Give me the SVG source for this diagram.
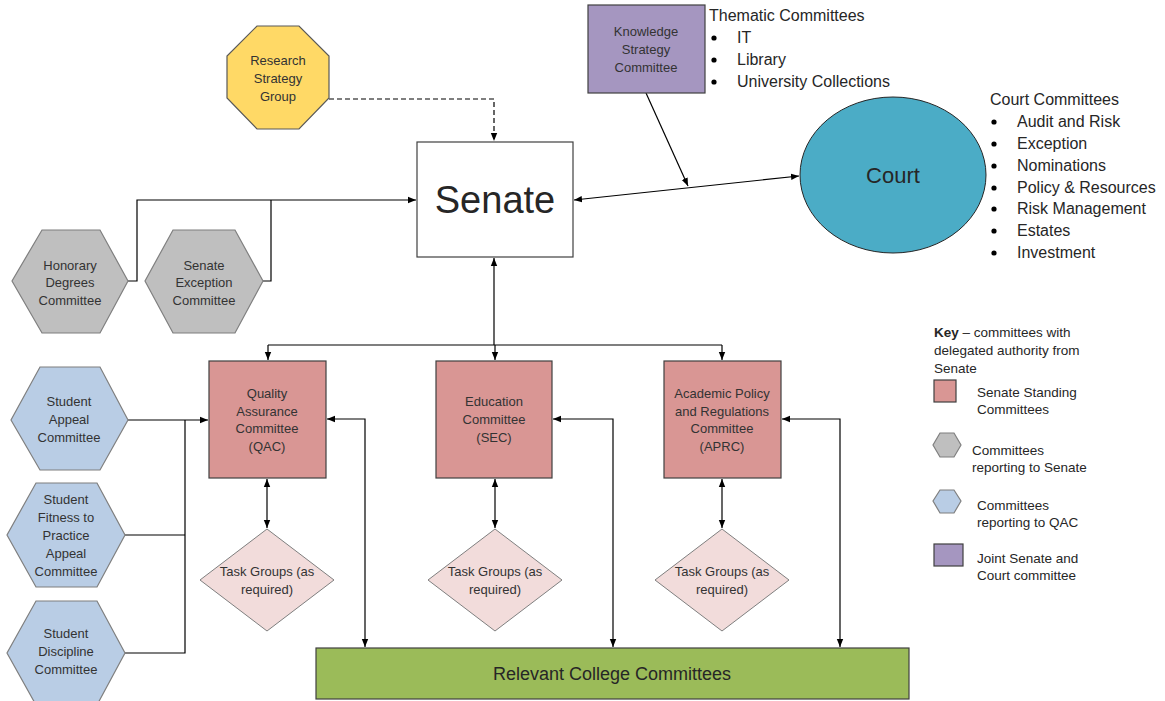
<svg xmlns="http://www.w3.org/2000/svg" width="1165" height="701" viewBox="0 0 1165 701">
<defs>
<marker id="ah" viewBox="0 0 10 10" refX="10" refY="5" markerWidth="8" markerHeight="8" markerUnits="userSpaceOnUse" orient="auto-start-reverse"><path d="M0,1 L10,5 L0,9 z" fill="#000"/></marker>
<style>
text{font-family:"Liberation Sans",Arial,sans-serif;fill:#262626}
.n{font-size:13px;text-anchor:middle;dominant-baseline:central;fill:#333}
.k{font-size:13.5px;dominant-baseline:central}
.l{font-size:16px}
.c{fill:none;stroke:#000;stroke-width:1.2}
.gray{fill:#BFBFBF;stroke:#7F7F7F;stroke-width:1.2}
.blue{fill:#B9CDE5;stroke:#7F7F7F;stroke-width:1.2}
.std{fill:#D99694;stroke:#404040;stroke-width:1.2}
.task{fill:#F2DCDB;stroke:#7F7F7F;stroke-width:1}
.purple{fill:#A596C0;stroke:#404040;stroke-width:1.2}
</style>
</defs>
<rect width="1165" height="701" fill="#fff"/>

<g id="connectors">
<path class="c" d="M329,99 H494 V141" stroke-dasharray="5,3" marker-end="url(#ah)"/>
<path class="c" d="M128,281 H137 V200 H416" marker-end="url(#ah)"/>
<path class="c" d="M263,281 H271 V200"/>
<path class="c" d="M574,200 L799,176" marker-start="url(#ah)" marker-end="url(#ah)"/>
<path class="c" d="M646,93 L688,186" marker-end="url(#ah)"/>
<path class="c" d="M494,345 V258" marker-end="url(#ah)"/>
<path class="c" d="M268,345 H722"/>
<path class="c" d="M268,345 V360" marker-end="url(#ah)"/>
<path class="c" d="M495,345 V360" marker-end="url(#ah)"/>
<path class="c" d="M722,345 V360" marker-end="url(#ah)"/>
<path class="c" d="M128,420 H208" marker-end="url(#ah)"/>
<path class="c" d="M185,420 V653 H125"/>
<path class="c" d="M125,535 H185"/>
<path class="c" d="M327,419 H365 V647" marker-start="url(#ah)" marker-end="url(#ah)"/>
<path class="c" d="M553,419 H613 V647" marker-start="url(#ah)" marker-end="url(#ah)"/>
<path class="c" d="M782,419 H840 V647" marker-start="url(#ah)" marker-end="url(#ah)"/>
<path class="c" d="M267,479 V528" marker-start="url(#ah)" marker-end="url(#ah)"/>
<path class="c" d="M495,479 V528" marker-start="url(#ah)" marker-end="url(#ah)"/>
<path class="c" d="M722,479 V528" marker-start="url(#ah)" marker-end="url(#ah)"/>
</g>

<g id="research">
<polygon points="257,26 299,26 329,56 329,98 299,129 257,129 227,98 227,56" fill="#FFD966" stroke="#595959" stroke-width="1.2"/>
<text class="n" x="278" y="60">Research</text>
<text class="n" x="278" y="78">Strategy</text>
<text class="n" x="278" y="96">Group</text>
</g>

<g id="senate">
<rect x="417" y="142" width="156" height="115" fill="#fff" stroke="#404040" stroke-width="1.2"/>
<text x="495" y="213" font-size="38" text-anchor="middle" fill="#000">Senate</text>
</g>

<g id="knowledge">
<rect class="purple" x="588" y="5" width="117" height="88"/>
<text class="n" x="646" y="31">Knowledge</text>
<text class="n" x="646" y="49">Strategy</text>
<text class="n" x="646" y="67">Committee</text>
</g>

<g id="thematic">
<text class="l" x="709" y="21">Thematic Committees</text>
<circle cx="714" cy="38" r="2.6" fill="#000"/><text class="l" x="737" y="43">IT</text>
<circle cx="714" cy="60" r="2.6" fill="#000"/><text class="l" x="737" y="65">Library</text>
<circle cx="714" cy="82" r="2.6" fill="#000"/><text class="l" x="737" y="87">University Collections</text>
</g>

<g id="court">
<ellipse cx="893" cy="175" rx="93" ry="78" fill="#4BACC6" stroke="#262626" stroke-width="1"/>
<text x="893" y="183" font-size="22" text-anchor="middle" fill="#000">Court</text>
</g>

<g id="court-committees">
<text class="l" x="990" y="105">Court Committees</text>
<circle cx="994" cy="122" r="2.6" fill="#000"/><text class="l" x="1017" y="127">Audit and Risk</text>
<circle cx="994" cy="144" r="2.6" fill="#000"/><text class="l" x="1017" y="149">Exception</text>
<circle cx="994" cy="166" r="2.6" fill="#000"/><text class="l" x="1017" y="171">Nominations</text>
<circle cx="994" cy="188" r="2.6" fill="#000"/><text class="l" x="1017" y="193">Policy &amp; Resources</text>
<circle cx="994" cy="209" r="2.6" fill="#000"/><text class="l" x="1017" y="214">Risk Management</text>
<circle cx="994" cy="231" r="2.6" fill="#000"/><text class="l" x="1017" y="236">Estates</text>
<circle cx="994" cy="253" r="2.6" fill="#000"/><text class="l" x="1017" y="258">Investment</text>
</g>

<g id="honorary">
<polygon class="gray" points="42,230 100,230 128,281 100,333 42,333 12,281"/>
<text class="n" x="70" y="265">Honorary</text>
<text class="n" x="70" y="282">Degrees</text>
<text class="n" x="70" y="300">Committee</text>
</g>

<g id="senate-exception">
<polygon class="gray" points="173,230 235,230 263,281 235,333 173,333 145,281"/>
<text class="n" x="204" y="265">Senate</text>
<text class="n" x="204" y="282">Exception</text>
<text class="n" x="204" y="300">Committee</text>
</g>

<g id="qac">
<rect class="std" x="209" y="361" width="117" height="117"/>
<text class="n" x="267" y="393">Quality</text>
<text class="n" x="267" y="411">Assurance</text>
<text class="n" x="267" y="428">Committee</text>
<text class="n" x="267" y="446">(QAC)</text>
</g>

<g id="sec">
<rect class="std" x="436" y="361" width="116" height="117"/>
<text class="n" x="494" y="401">Education</text>
<text class="n" x="494" y="419">Committee</text>
<text class="n" x="494" y="437">(SEC)</text>
</g>

<g id="aprc">
<rect class="std" x="664" y="361" width="117" height="117"/>
<text class="n" x="722" y="393">Academic Policy</text>
<text class="n" x="722" y="411">and Regulations</text>
<text class="n" x="722" y="428">Committee</text>
<text class="n" x="722" y="446">(APRC)</text>
</g>

<g id="student-appeal">
<polygon class="blue" points="40,367 100,367 128,420 100,470 40,470 11,420"/>
<text class="n" x="69" y="401">Student</text>
<text class="n" x="69" y="419">Appeal</text>
<text class="n" x="69" y="437">Committee</text>
</g>

<g id="student-fitness">
<polygon class="blue" points="36,483 97,483 125,535 97,587 36,587 7,535"/>
<text class="n" x="66" y="499">Student</text>
<text class="n" x="66" y="517">Fitness to</text>
<text class="n" x="66" y="535">Practice</text>
<text class="n" x="66" y="553">Appeal</text>
<text class="n" x="66" y="571">Committee</text>
</g>

<g id="student-discipline">
<polygon class="blue" points="36,601 97,601 125,653 97,705 36,705 7,653"/>
<text class="n" x="66" y="633">Student</text>
<text class="n" x="66" y="651">Discipline</text>
<text class="n" x="66" y="669">Committee</text>
</g>

<g id="task-qac">
<polygon class="task" points="267,529 334,580 267,631 200,580"/>
<text class="n" x="267" y="571">Task Groups (as</text>
<text class="n" x="267" y="589">required)</text>
</g>

<g id="task-sec">
<polygon class="task" points="495,529 562,580 495,631 428,580"/>
<text class="n" x="495" y="571">Task Groups (as</text>
<text class="n" x="495" y="589">required)</text>
</g>

<g id="task-aprc">
<polygon class="task" points="722,529 789,580 722,631 655,580"/>
<text class="n" x="722" y="571">Task Groups (as</text>
<text class="n" x="722" y="589">required)</text>
</g>

<g id="college">
<rect x="316" y="648" width="593" height="51" fill="#9BBB59" stroke="#404040" stroke-width="1.2"/>
<text x="612" y="674" font-size="18" text-anchor="middle" dominant-baseline="central" fill="#1a1a1a">Relevant College Committees</text>
</g>

<g id="key">
<text class="k" x="934" y="332"><tspan font-weight="bold">Key</tspan> – committees with</text>
<text class="k" x="934" y="350">delegated authority from</text>
<text class="k" x="934" y="368">Senate</text>
<rect class="std" x="934" y="380" width="22" height="22"/>
<text class="k" x="977" y="392">Senate Standing</text>
<text class="k" x="977" y="409">Committees</text>
<polygon class="gray" points="940,433 954,433 961,445 954,457 940,457 933,445"/>
<text class="k" x="972" y="450">Committees</text>
<text class="k" x="972" y="467">reporting to Senate</text>
<polygon class="blue" points="940,490 954,490 961,501 954,513 940,513 933,501"/>
<text class="k" x="977" y="505">Committees</text>
<text class="k" x="977" y="522">reporting to QAC</text>
<rect class="purple" x="934" y="544" width="29" height="22"/>
<text class="k" x="977" y="558">Joint Senate and</text>
<text class="k" x="977" y="575">Court committee</text>
</g>
</svg>
